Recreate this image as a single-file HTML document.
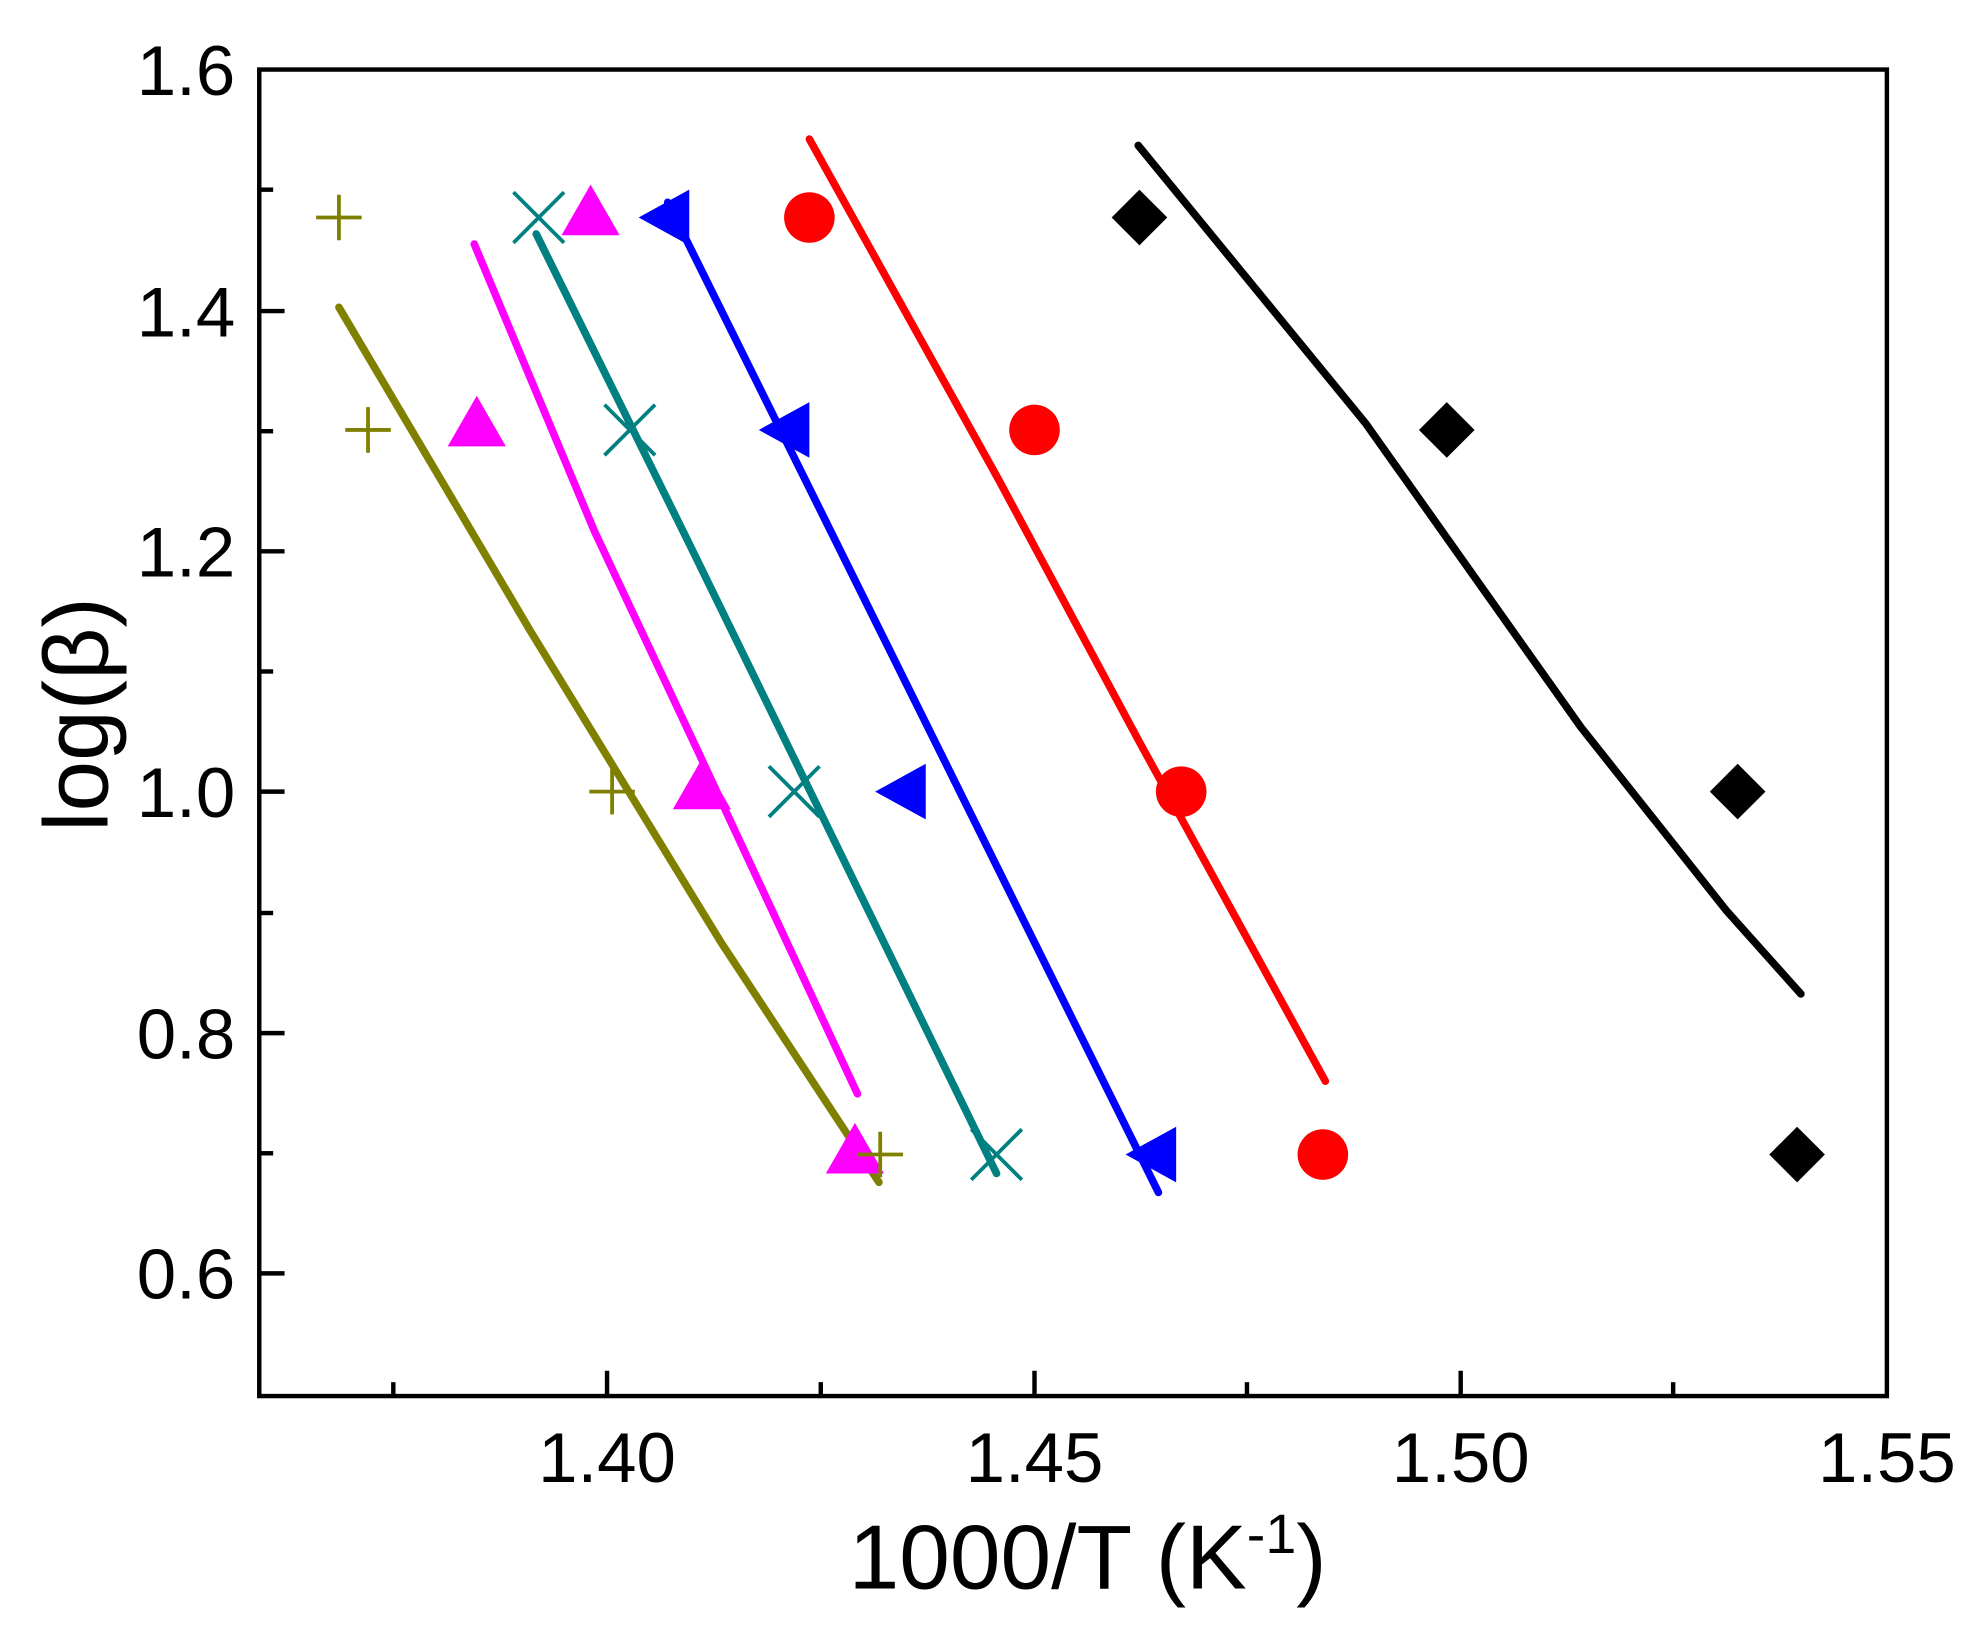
<!DOCTYPE html>
<html><head><meta charset="utf-8"><style>
html,body{margin:0;padding:0;background:#fff;}
svg{display:block;}
text{font-family:"Liberation Sans",Arial,sans-serif;fill:#000;}
</style></head><body>
<svg width="1983" height="1630" viewBox="0 0 1568 1289" preserveAspectRatio="none" xmlns="http://www.w3.org/2000/svg">
<rect width="1568" height="1289" fill="#fff"/>
<rect x="205" y="55" width="1287" height="1049" fill="none" stroke="#000" stroke-width="3.5"/>
<g stroke="#000" stroke-width="3.5">
<line x1="480" y1="1104" x2="480" y2="1084"/><line x1="818" y1="1104" x2="818" y2="1084"/>
<line x1="1155" y1="1104" x2="1155" y2="1084"/>
<line x1="311" y1="1104" x2="311" y2="1093"/><line x1="649" y1="1104" x2="649" y2="1093"/>
<line x1="986" y1="1104" x2="986" y2="1093"/><line x1="1323" y1="1104" x2="1323" y2="1093"/>
<line x1="205" y1="246" x2="225" y2="246"/><line x1="205" y1="436" x2="225" y2="436"/>
<line x1="205" y1="626" x2="225" y2="626"/><line x1="205" y1="817" x2="225" y2="817"/>
<line x1="205" y1="1007" x2="225" y2="1007"/>
<line x1="205" y1="150" x2="216" y2="150"/><line x1="205" y1="341" x2="216" y2="341"/>
<line x1="205" y1="531" x2="216" y2="531"/><line x1="205" y1="722" x2="216" y2="722"/>
<line x1="205" y1="912" x2="216" y2="912"/>
</g>
<g font-size="56" text-anchor="end">
<text x="186" y="75">1.6</text><text x="186" y="266">1.4</text><text x="186" y="456">1.2</text>
<text x="186" y="646">1.0</text><text x="186" y="837">0.8</text><text x="186" y="1027">0.6</text>
</g>
<g font-size="56" text-anchor="middle">
<text x="480" y="1172">1.40</text><text x="818" y="1172">1.45</text>
<text x="1155" y="1172">1.50</text><text x="1492" y="1172">1.55</text>
</g>
<text x="860" y="1256" font-size="72" text-anchor="middle">1000/T (K<tspan font-size="44" dy="-28">-1</tspan><tspan dy="28">)</tspan></text>
<text transform="translate(85,565) rotate(-90)" font-size="72" text-anchor="middle">log(β)</text>
<g fill="none" stroke-width="6" stroke-linecap="round">
<polyline stroke="#000" points="900,115 1080,335 1250,575 1365,720 1424,786"/>
<polyline stroke="#f00" points="640,110 790,380 900,585 1048,855"/>
<polyline stroke="#00f" points="528,160 916,943"/>
<polyline stroke="#008080" points="424,185 545,430 650,645 788,928"/>
<polyline stroke="#f0f" points="375,193 470,420 550,590 678,865"/>
<polyline stroke="#808000" points="268,243 420,500 570,745 695,935"/>
</g>
<g fill="#000">
<polygon points="901,150 923,172 901,194 879,172"/><polygon points="1144,318 1166,340 1144,362 1122,340"/>
<polygon points="1374,604 1396,626 1374,648 1352,626"/><polygon points="1421,891 1443,913 1421,935 1399,913"/>
</g>
<g fill="#f00">
<circle cx="640" cy="172" r="20"/><circle cx="818" cy="340" r="20"/><circle cx="934" cy="626" r="20"/><circle cx="1046" cy="913" r="20"/>
</g>
<g fill="#00f">
<polygon points="505,172 545,150 545,194"/><polygon points="600,340 640,318 640,362"/>
<polygon points="692,626 732,604 732,648"/><polygon points="890,913 930,891 930,935"/>
</g>
<g fill="#f0f">
<polygon points="467,146 490,186 444,186"/><polygon points="377,313 400,353 354,353"/>
<polygon points="555,600 578,640 532,640"/><polygon points="676,888 699,928 653,928"/>
</g>
<g stroke="#008080" stroke-width="3">
<path d="M406,152 L446,192 M446,152 L406,192"/><path d="M478,320 L518,360 M518,320 L478,360"/>
<path d="M608,606 L648,646 M648,606 L608,646"/><path d="M768,893 L808,933 M808,893 L768,933"/>
</g>
<g stroke="#808000" stroke-width="3">
<path d="M250,172 H286 M268,154 V190"/><path d="M273,340 H309 M291,322 V358"/>
<path d="M466,626 H502 M484,608 V644"/><path d="M678,913 H714 M696,895 V931"/>
</g>
</svg>
</body></html>
